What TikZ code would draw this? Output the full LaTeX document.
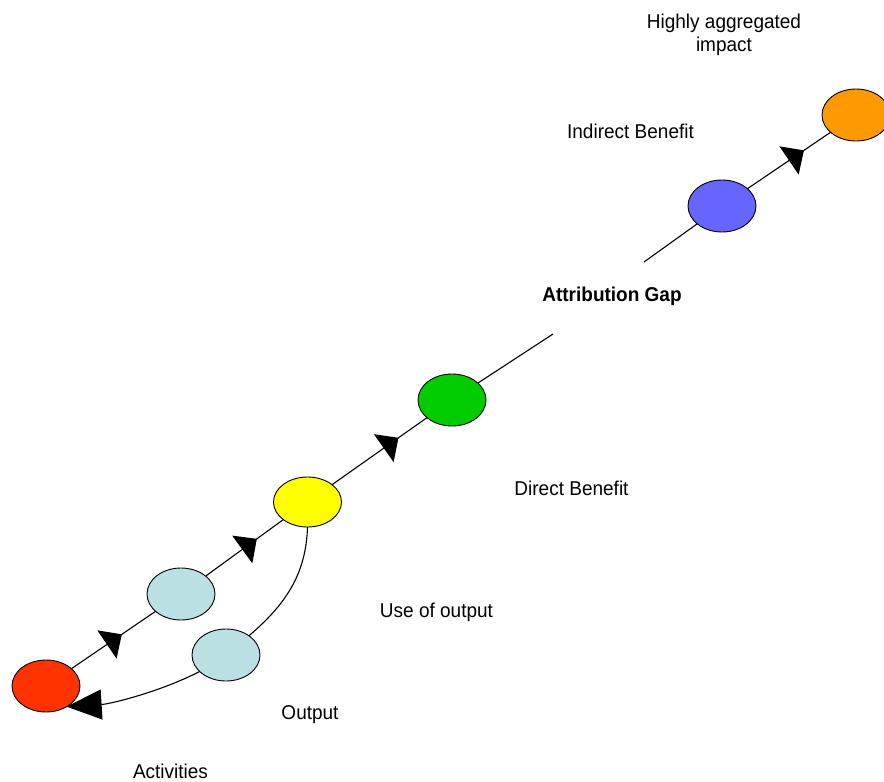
\documentclass[tikz,border=0pt]{standalone}
\usepackage{fontspec}
\setmainfont{Liberation Sans}[FakeStretch=0.95]
\usetikzlibrary{shapes.geometric,arrows.meta,decorations.markings}
\definecolor{cred}{HTML}{FF3300}
\definecolor{clb}{HTML}{BBE0E3}
\definecolor{cyel}{HTML}{FFFF00}
\definecolor{cgrn}{HTML}{00CC00}
\definecolor{cblu}{HTML}{6666FF}
\definecolor{corg}{HTML}{FF9900}
\tikzset{
  blob/.style={ellipse,draw=black,line width=0.9pt,minimum width=68pt,minimum height=52pt,inner sep=0pt,outer sep=0pt},
  lbl/.style={anchor=base,inner sep=0pt,font=\fontsize{20}{23}\selectfont,align=center},
  conn/.style={line width=1.1pt},
  midarrow/.style={postaction={decorate},decoration={markings,mark=at position #1 with {\arrow{Triangle[length=18pt,width=34pt]}}}},
  midarrow/.default=0.65,
  bigtip/.style={-{Triangle[length=35pt,width=30pt]}}
}
\begin{document}
\begin{tikzpicture}[x=1pt,y=-1pt]
\useasboundingbox (0,0) rectangle (884,782);
% nodes
\node[blob,fill=cred] (red) at (46,686) {};
\node[blob,fill=clb] (lba) at (181,594) {};
\node[blob,fill=clb] (lbb) at (226,655) {};
\node[blob,fill=cyel,minimum height=50pt] (yel) at (307.5,502) {};
\node[blob,fill=cgrn] (grn) at (452,400) {};
\node[blob,fill=cblu] (blu) at (722,206) {};
\node[blob,fill=corg] (org) at (856,115) {};
\coordinate (gapa) at (553,334);
\coordinate (gapb) at (644,262);
% connectors
\draw[conn,midarrow=0.6] (red) -- (lba);
\draw[conn,midarrow=0.66] (lba) -- (yel);
\draw[conn,midarrow=0.7] (yel) -- (grn);
\draw[conn] (grn) -- (gapa);
\draw[conn] (gapb) -- (blu);
\draw[conn,midarrow=0.68] (blu) -- (org);
\draw[conn] (yel.south) .. controls (306,575) and (285,605) .. (lbb.40);
\draw[conn,bigtip] (lbb.212) .. controls (160,692) and (110,704) .. (red.-45);
% labels
\node[lbl] (t1) at (724,51) {Highly aggregated\\impact};
\node[lbl] (t2) at (630.5,138) {Indirect Benefit};
\node[lbl,font=\fontsize{20}{23}\selectfont\bfseries] (t3) at (612,301) {Attribution Gap};
\node[lbl] (t4) at (571.5,495) {Direct Benefit};
\node[lbl] (t5) at (436.5,617) {Use of output};
\node[lbl] (t6) at (310,719) {Output};
\node[lbl] (t7) at (170.5,778) {Activities};
\end{tikzpicture}
\end{document}
